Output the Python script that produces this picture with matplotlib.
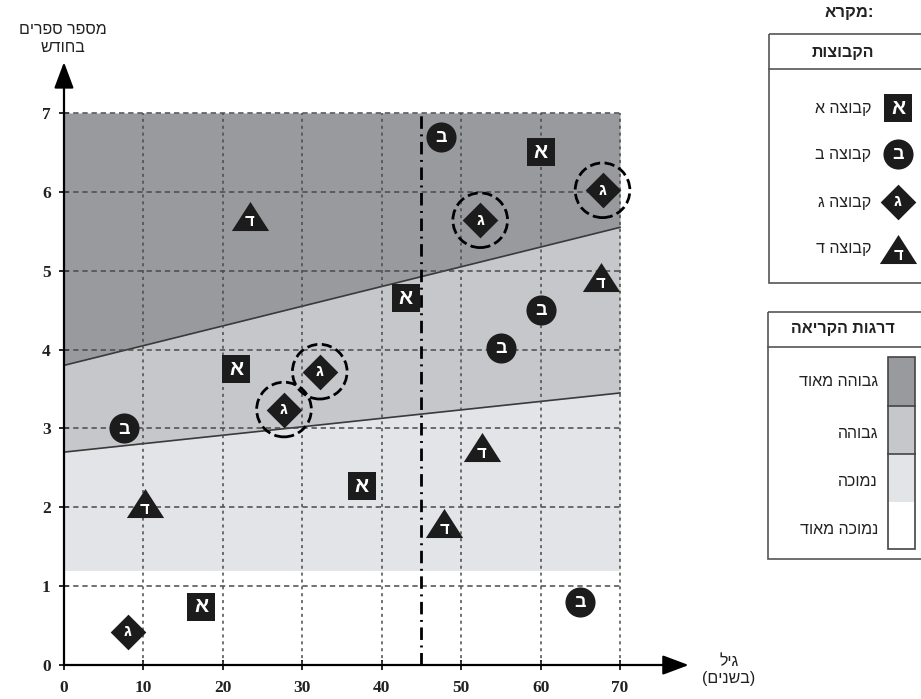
import numpy as np
import matplotlib.pyplot as plt
from matplotlib.patches import Rectangle

HEB = ['Liberation Sans', 'DejaVu Sans']


def rtl(s):
    # matplotlib has no bidi support, so reverse Hebrew text by hand
    return s[::-1]


# --- data (age in years, books per month) ---
group_a_x = [60, 43, 21.7, 37.5, 17.3]
group_a_y = [6.5, 4.65, 3.75, 2.27, 0.74]
group_b_x = [47.5, 60, 55, 7.6, 65]
group_b_y = [6.7, 4.5, 4.02, 3.0, 0.8]
group_c_x = [67.8, 52.4, 32.2, 27.7, 8.0]
group_c_y = [6.02, 5.64, 3.72, 3.24, 0.42]
group_d_x = [23.4, 67.6, 52.6, 10.2, 47.9]
group_d_y = [5.7, 4.92, 2.76, 2.05, 1.8]
circled = [0, 1, 2, 3]  # indices of group ג points with dashed circles

zone_x = [0, 70]
upper_y = [3.8, 5.55]
lower_y = [2.7, 3.45]
zone_floor = 1.2
zone_top = 7
cut_age = 45

group_letters = ['א', 'ב', 'ג', 'ד']
group_names = ['קבוצה א', 'קבוצה ב', 'קבוצה ג', 'קבוצה ד']
level_names = ['גבוהה מאוד', 'גבוהה', 'נמוכה', 'נמוכה מאוד']
level_colors = ['#999a9e', '#c6c7ca', '#e3e4e7', '#ffffff']

tri = [(-1, -0.78), (1, -0.78), (0, 0.78)]
# (marker, size, letter fontsize, letter offset in data y)
marker_style = [('s', 400, 15, 0), ('o', 470, 13, -0.01), ('D', 330, 12, 0), (tri, 720, 12, -0.08)]

fig = plt.figure(figsize=(9.21, 6.99), dpi=100)
ax = fig.add_axes([0.0522, 0.0147, 0.7245, 0.9252])
ax.set_xlim(-2, 82)
ax.set_ylim(-0.3, 7.9)

# reading-level zones
ax.fill_between(zone_x, [zone_floor] * 2, lower_y, color=level_colors[2], lw=0, zorder=1)
ax.fill_between(zone_x, lower_y, upper_y, color=level_colors[1], lw=0, zorder=1)
ax.fill_between(zone_x, upper_y, [zone_top] * 2, color=level_colors[0], lw=0, zorder=1)
ax.plot(zone_x, upper_y, color='#3a3a3a', lw=1.2, zorder=2)
ax.plot(zone_x, lower_y, color='#3a3a3a', lw=1.2, zorder=2)

# dashed grid
ax.hlines(range(1, 8), 0, 70, colors='#4a4a4a', lw=1.1, linestyles=(0, (3.5, 2.5)), zorder=2)
ax.vlines(range(10, 80, 10), 0, 7, colors='#4a4a4a', lw=1.1, linestyles=(0, (2, 2.5)), zorder=2)
ax.plot([cut_age, cut_age], [0, 7], color='black', lw=2, linestyle=(0, (4.5, 2, 0.7, 2)), zorder=3)

# axes with arrows
for s in ['top', 'right']:
    ax.spines[s].set_visible(False)
ax.spines['bottom'].set_position(('data', 0))
ax.spines['left'].set_position(('data', 0))
ax.spines['bottom'].set_bounds(0, 77)
ax.spines['left'].set_bounds(0, 7.5)
for s in ['bottom', 'left']:
    ax.spines[s].set_linewidth(1.6)
    ax.spines[s].set_zorder(4)
ax.annotate('', xy=(79, 0), xytext=(75, 0),
            arrowprops=dict(arrowstyle='-|>,head_length=0.8,head_width=0.3', mutation_scale=20,
                            color='black', lw=1.6), zorder=4)
ax.annotate('', xy=(0, 7.68), xytext=(0, 7.3),
            arrowprops=dict(arrowstyle='-|>,head_length=0.8,head_width=0.3', mutation_scale=20,
                            color='black', lw=1.6), zorder=4)
ax.set_xticks(range(0, 80, 10))
ax.set_yticks(range(0, 8))
ax.tick_params(direction='inout', length=7, width=1.2)
ax.tick_params(axis='x', pad=7)
ax.tick_params(axis='y', pad=6)
for lab in ax.get_xticklabels() + ax.get_yticklabels():
    lab.set_fontfamily('Liberation Serif')
    lab.set_fontweight('bold')
    lab.set_fontsize(12.5)
    lab.set_color('#222222')

# points
groups = [(group_a_x, group_a_y), (group_b_x, group_b_y), (group_c_x, group_c_y), (group_d_x, group_d_y)]
for (xs, ys), letter, (mk, size, fs, dy) in zip(groups, group_letters, marker_style):
    ax.scatter(xs, ys, marker=mk, s=size, color='#1c1c1c', lw=0, zorder=5, clip_on=False)
    for x, y in zip(xs, ys):
        ax.text(x, y + dy, letter, color='white', fontsize=fs, fontweight='bold', family=HEB,
                ha='center', va='center', zorder=6)
ax.scatter([group_c_x[i] for i in circled], [group_c_y[i] for i in circled], s=1550,
           facecolors='none', edgecolors='black', linewidths=2, linestyles='--', zorder=4)

# overlay in pixel coordinates for labels and legend
lg = fig.add_axes([0, 0, 1, 1])
lg.set_xlim(0, 921)
lg.set_ylim(699, 0)
lg.axis('off')

lg.text(63, 29, rtl('מספר ספרים'), family=HEB, fontsize=11.5, ha='center', va='center', color='#222')
lg.text(63, 47, rtl('בחודש'), family=HEB, fontsize=11.5, ha='center', va='center', color='#222')
lg.text(729, 661, rtl('גיל'), family=HEB, fontsize=11.5, ha='center', va='center', color='#222')
lg.text(729, 679, '(' + rtl('בשנים') + ')', family=HEB, fontsize=11.5, ha='center', va='center', color='#222')

lg.text(849, 13, rtl('מקרא') + ':', family=HEB, fontsize=12, fontweight='bold', ha='center', va='center', color='#222')

# groups legend box
lg.add_patch(Rectangle((769, 34), 165, 249, fill=False, ec='#555', lw=1.2))
lg.plot([769, 930], [69, 69], color='#555', lw=1.2)
lg.text(843, 52, rtl('הקבוצות'), family=HEB, fontsize=11.5, fontweight='bold', ha='center', va='center', color='#222')
item_y = [108, 154, 202, 249]
for yy, letter, name, (mk, size, fs, dy) in zip(item_y, group_letters, group_names, marker_style):
    lg.scatter([898], [yy], marker=mk, s=size, color='#1c1c1c', lw=0, zorder=5)
    lg.text(898, yy - dy * 79, letter, color='white', fontsize=fs, fontweight='bold', family=HEB,
            ha='center', va='center', zorder=6)
    lg.text(871, yy, rtl(name), family=HEB, fontsize=11.5, ha='right', va='center', color='#222')

# reading-level legend box
lg.add_patch(Rectangle((768, 312), 165, 247, fill=False, ec='#555', lw=1.2))
lg.plot([768, 930], [347, 347], color='#555', lw=1.2)
lg.text(843, 329, rtl('דרגות הקריאה'), family=HEB, fontsize=11.5, fontweight='bold', ha='center', va='center', color='#222')
seg_top = [357, 406, 454, 502]
seg_bot = [406, 454, 502, 549]
label_y = [382, 434, 482, 530]
for t, b, c, name, ly in zip(seg_top, seg_bot, level_colors, level_names, label_y):
    lg.add_patch(Rectangle((888, t), 27, b - t, fc=c, ec='none'))
    lg.text(878, ly, rtl(name), family=HEB, fontsize=11.5, ha='right', va='center', color='#222')
lg.add_patch(Rectangle((888, 357), 27, 192, fill=False, ec='#444', lw=1.2))
lg.plot([888, 915], [406, 406], color='#444', lw=1.2)
lg.plot([888, 915], [454, 454], color='#444', lw=1.2)

fig.savefig('out.png', dpi=100)
